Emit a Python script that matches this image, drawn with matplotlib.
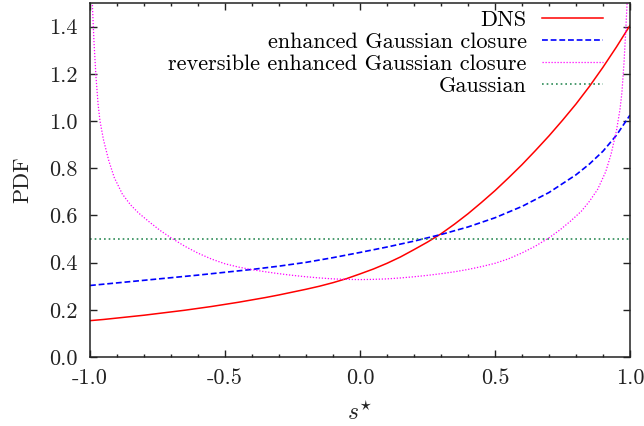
import matplotlib
matplotlib.use("Agg")
import matplotlib.pyplot as plt
from matplotlib.ticker import MultipleLocator, FormatStrFormatter

# values
s_dns = [-1.0, -0.95, -0.9, -0.85, -0.8, -0.75, -0.7, -0.65, -0.6, -0.55, -0.5,
         -0.45, -0.4, -0.35, -0.3, -0.25, -0.2, -0.15, -0.1, -0.05, 0.0,
         0.05, 0.1, 0.15, 0.2, 0.25, 0.3, 0.35, 0.4, 0.45, 0.5,
         0.55, 0.6, 0.65, 0.7, 0.75, 0.8, 0.85, 0.9, 0.95, 1.0]
pdf_dns = [0.154, 0.159, 0.165, 0.171, 0.177, 0.184, 0.191, 0.198, 0.206, 0.214, 0.223,
           0.232, 0.242, 0.252, 0.263, 0.275, 0.287, 0.300, 0.315, 0.332, 0.352,
           0.373, 0.397, 0.424, 0.455, 0.487, 0.522, 0.563, 0.607, 0.655, 0.705,
           0.759, 0.815, 0.875, 0.937, 1.003, 1.072, 1.147, 1.228, 1.314, 1.405]

s_egc = [-1.0, -0.9, -0.8, -0.7, -0.6, -0.5, -0.4, -0.3, -0.2, -0.1, 0.0,
         0.1, 0.2, 0.3, 0.4, 0.5, 0.6, 0.7, 0.8, 0.85, 0.9, 0.95, 1.0]
pdf_egc = [0.303, 0.314, 0.325, 0.336, 0.347, 0.359, 0.371, 0.385, 0.401, 0.421, 0.443,
           0.466, 0.491, 0.519, 0.551, 0.590, 0.638, 0.697, 0.772, 0.818, 0.872, 0.940, 1.025]

s_rev = [-0.995, -0.99, -0.985, -0.978, -0.97, -0.963, -0.95, -0.93, -0.91, -0.88, -0.85,
         -0.82, -0.78, -0.74, -0.70, -0.65, -0.60, -0.55, -0.50, -0.45, -0.40, -0.35,
         -0.30, -0.25, -0.20, -0.15, -0.10, -0.05, 0.0,
         0.05, 0.10, 0.15, 0.20, 0.25, 0.30, 0.35, 0.40, 0.45, 0.50, 0.55, 0.60, 0.65,
         0.70, 0.74, 0.78, 0.82, 0.85, 0.88, 0.91, 0.93, 0.95, 0.963, 0.97,
         0.978, 0.985, 0.99, 0.995]
pdf_rev = [1.62, 1.46, 1.33, 1.19, 1.07, 1.00, 0.92, 0.83, 0.76, 0.69, 0.645,
           0.610, 0.572, 0.536, 0.505, 0.470, 0.440, 0.415, 0.395, 0.381, 0.370, 0.361,
           0.353, 0.346, 0.340, 0.335, 0.331, 0.329, 0.328,
           0.329, 0.331, 0.335, 0.340, 0.346, 0.353, 0.361, 0.371, 0.383, 0.397, 0.416, 0.441, 0.470,
           0.505, 0.538, 0.576, 0.618, 0.660, 0.710, 0.785, 0.860, 0.960, 1.050, 1.120,
           1.250, 1.400, 1.520, 1.680]

s_gauss = [-1.0, 1.0]
pdf_gauss = [0.5, 0.5]

plt.rcParams['font.family'] = 'cmr10'
plt.rcParams['mathtext.fontset'] = 'cm'
plt.rcParams['axes.unicode_minus'] = False
plt.rcParams['axes.formatter.use_mathtext'] = True

fig = plt.figure(figsize=(6.44, 4.26), dpi=100)
ax = fig.add_axes([90/644, 69/426, 540/644, 354/426])

ax.plot(s_dns, pdf_dns, color='#ff0000', lw=1.1, label='DNS')
ax.plot(s_egc, pdf_egc, color='#0000ff', lw=1.2, dashes=(3.5, 1.7), label='enhanced Gaussian closure')
ax.plot(s_rev, pdf_rev, color='#ff00ff', lw=0.9, dashes=(1.0, 1.4), label='reversible enhanced Gaussian closure')
ax.plot(s_gauss, pdf_gauss, color='#2e8b57', lw=1.2, dashes=(1.0, 1.8), label='Gaussian')

ax.set_xlim(-1, 1)
ax.set_ylim(0, 1.5)
ax.xaxis.set_major_locator(MultipleLocator(0.5))
ax.xaxis.set_minor_locator(MultipleLocator(0.1))
ax.yaxis.set_major_locator(MultipleLocator(0.2))
ax.xaxis.set_major_formatter(FormatStrFormatter('%.1f'))
ax.yaxis.set_major_formatter(FormatStrFormatter('%.1f'))
ax.tick_params(which='both', direction='in', top=True, right=True, labelsize=16, colors='#222222')
ax.tick_params(which='major', length=5, width=1)
ax.tick_params(which='minor', length=2.5, width=1)
ax.tick_params(axis='x', pad=8)
ax.tick_params(axis='y', pad=9)
for sp in ax.spines.values():
    sp.set_linewidth(1.1)
    sp.set_color('#222222')

ax.set_xlabel(r'$s^{\star}$', fontsize=17, color='#222222', labelpad=10)
ax.set_ylabel('PDF', fontsize=16, color='#222222', labelpad=12)

ax.legend(loc='upper right', frameon=False, markerfirst=False, fontsize=16,
          handlelength=2.75, handletextpad=0.68, labelspacing=0.12,
          borderaxespad=0, borderpad=0,
          bbox_to_anchor=(603/644, 416/426), bbox_transform=fig.transFigure)

plt.savefig('out.png', dpi=100)
